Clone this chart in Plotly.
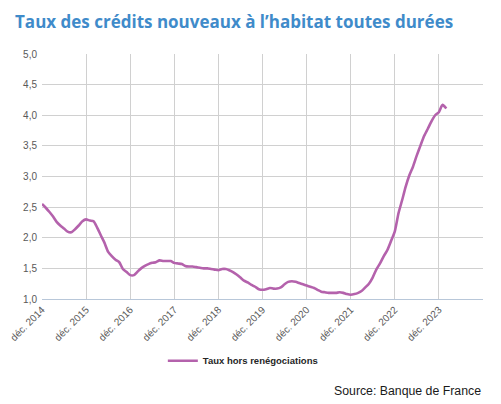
import pandas as pd
import plotly.graph_objects as go

# Monthly average rate on new housing loans (excluding renegotiations), Dec 2014 -> Feb 2024
rates = [
    2.55, 2.49, 2.42, 2.35, 2.26, 2.20, 2.15, 2.10, 2.09, 2.14, 2.20, 2.27,  # Dec14-Nov15
    2.30, 2.28, 2.27, 2.17, 2.04, 1.92, 1.77, 1.70, 1.64, 1.60, 1.49, 1.44,  # Dec15-Nov16
    1.39, 1.39, 1.45, 1.50, 1.54, 1.57, 1.59, 1.60, 1.63, 1.62, 1.62, 1.62,  # Dec16-Nov17
    1.59, 1.58, 1.57, 1.54, 1.53, 1.53, 1.52, 1.51, 1.50, 1.50, 1.49, 1.48,  # Dec17-Nov18
    1.47, 1.49, 1.49, 1.47, 1.44, 1.40, 1.35, 1.30, 1.27, 1.23, 1.20, 1.16,  # Dec18-Nov19
    1.15, 1.16, 1.18, 1.17, 1.17, 1.19, 1.24, 1.28, 1.29, 1.28, 1.26, 1.24,  # Dec19-Nov20
    1.22, 1.20, 1.18, 1.15, 1.12, 1.11, 1.10, 1.10, 1.10, 1.11, 1.10, 1.08,  # Dec20-Nov21
    1.07, 1.08, 1.10, 1.13, 1.19, 1.25, 1.35, 1.48, 1.58, 1.70, 1.80, 1.95,  # Dec21-Nov22
    2.10, 2.40, 2.62, 2.83, 3.02, 3.16, 3.34, 3.50, 3.66, 3.78, 3.90, 4.00,  # Dec22-Nov23
    4.05, 4.17, 4.11,                                                        # Dec23-Feb24
]
months = pd.date_range("2014-12-01", periods=len(rates), freq="MS")

tick_dates = pd.date_range("2014-12-01", "2024-12-01", freq="12MS")
tick_labels = ["déc. 2014", "déc. 2015", "déc. 2016", "déc. 2017", "déc. 2018",
               "déc. 2019", "déc. 2020", "déc. 2021", "déc. 2022", "déc. 2023", ""]
y_ticks = [1.0, 1.5, 2.0, 2.5, 3.0, 3.5, 4.0, 4.5, 5.0]

series_name = "Taux hors renégociations"
title_text = "Taux des crédits nouveaux à l’habitat toutes durées"
source_text = "Source: Banque de France"

fig = go.Figure()
fig.add_trace(go.Scatter(
    x=months, y=rates, mode="lines", name=series_name,
    line=dict(color="#B462AC", width=2.6, shape="spline", smoothing=0.6),
))

fig.update_layout(
    width=501, height=404,
    margin=dict(l=42, r=18, t=54, b=105),
    paper_bgcolor="white", plot_bgcolor="white",
    separators=", ",
    showlegend=True,
    title=dict(text=title_text, x=0.03, xanchor="left", y=0.945, yanchor="middle",
               font=dict(family="Open Sans", size=17, color="#3F8BCA", weight="bold")),
    legend=dict(orientation="h", x=0.274, xanchor="left", y=-0.252, yanchor="middle",
                font=dict(family="Liberation Sans", size=9.5, color="#262626", weight="bold"),
                bgcolor="rgba(0,0,0,0)"),
    xaxis=dict(
        type="date", automargin=False,
        range=[tick_dates[0], tick_dates[-1]],
        tickmode="array", tickvals=tick_dates, ticktext=tick_labels,
        tickangle=-45,
        tickfont=dict(family="Liberation Sans", size=10, color="#595959"),
        showgrid=True, gridcolor="#D0D0D0", gridwidth=1,
        showline=True, linecolor="#B8C7D9", linewidth=1.2,
        ticks="", zeroline=False,
    ),
    yaxis=dict(
        range=[1.0, 5.0], tickmode="array", tickvals=y_ticks, tickformat=".1f",
        automargin=False,
        tickfont=dict(family="Liberation Sans", size=10, color="#595959"),
        showgrid=True, gridcolor="#D0D0D0", gridwidth=1,
        showline=False, zeroline=False, ticks="", ticklabelstandoff=4,
    ),
    annotations=[dict(
        text=source_text, xref="paper", yref="paper", x=1.0, xanchor="right",
        y=-0.376, yanchor="middle", showarrow=False,
        font=dict(family="Liberation Sans", size=12.3, color="#1A1A1A"),
    )],
)

fig.write_html("out.html", config={"displayModeBar": False},
               post_script="document.body.style.margin='0';")
